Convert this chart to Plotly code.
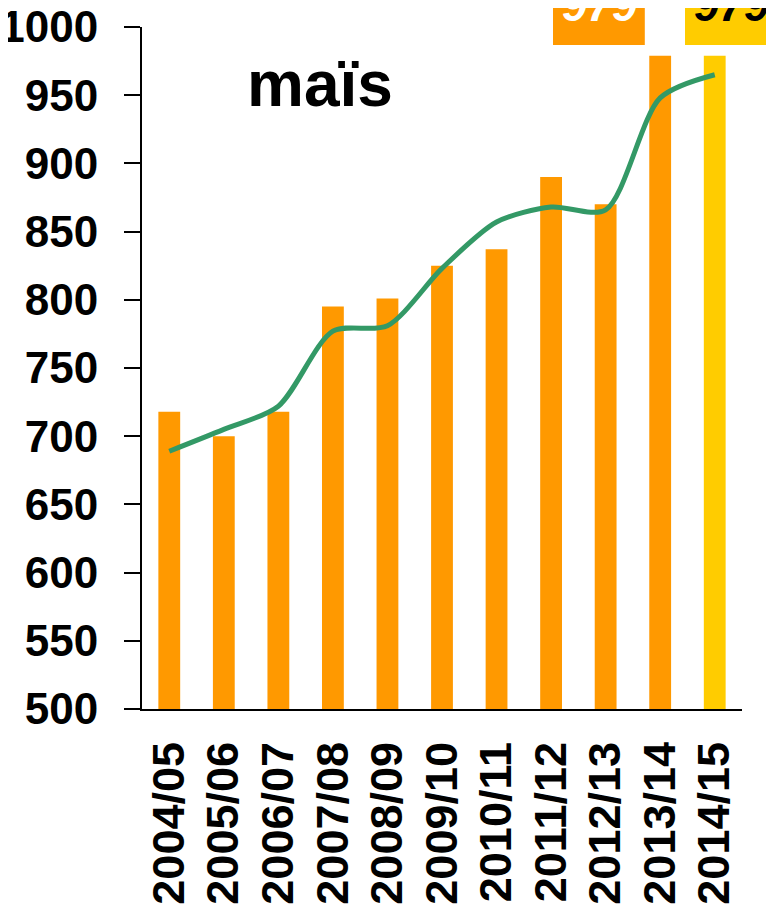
import plotly.graph_objects as go

categories = ["2004/05", "2005/06", "2006/07", "2007/08", "2008/09", "2009/10",
              "2010/11", "2011/12", "2012/13", "2013/14", "2014/15"]
bar_values = [718, 700, 718, 795, 801, 825, 837, 890, 870, 979, 979]
trend_values = [689, 705, 722, 777, 781, 823, 857, 868, 866, 948, 965]
bar_colors = ["#FF9900"] * 10 + ["#FFCC00"]
label_text = "979"

FONT = "Liberation Sans, Arial, sans-serif"

fig = go.Figure()
fig.add_trace(go.Bar(x=categories, y=bar_values, marker=dict(color=bar_colors, line=dict(width=0)),
                     width=0.4, showlegend=False))
fig.add_trace(go.Scatter(x=categories, y=trend_values, mode="lines",
                         line=dict(color="#339966", width=5, shape="spline", smoothing=0.8),
                         showlegend=False))

# label boxes at top
fig.add_shape(type="rect", xref="paper", yref="paper", x0=0.685, x1=0.838, y0=0.9736, y1=1.12,
              fillcolor="#FF9900", line=dict(width=0), layer="above")
fig.add_shape(type="rect", xref="paper", yref="paper", x0=0.905, x1=1.07, y0=0.9736, y1=1.12,
              fillcolor="#FFCC00", line=dict(width=0), layer="above")
fig.add_annotation(text=f"<b><i>{label_text}</i></b>", xref="paper", yref="paper", x=0.762, y=1.032,
                   xanchor="center", yanchor="middle", showarrow=False,
                   font=dict(family=FONT, size=45, color="white"))
fig.add_annotation(text=f"<b><i>{label_text}</i></b>", xref="paper", yref="paper", x=0.983, y=1.032,
                   xanchor="center", yanchor="middle", showarrow=False,
                   font=dict(family=FONT, size=45, color="black"))
fig.add_annotation(text="<b>maïs</b>", xref="paper", yref="paper", x=0.297, y=0.916,
                   xanchor="center", yanchor="middle", showarrow=False,
                   font=dict(family=FONT, size=64, color="black"))

fig.update_layout(
    width=774, height=911,
    margin=dict(l=134, r=40, t=19, b=210, autoexpand=False),
    paper_bgcolor="white", plot_bgcolor="white",
    font=dict(family=FONT, size=44, color="black"),
    bargap=0.6,
)
fig.update_xaxes(type="category", range=[-0.5, 10.5], showline=True, linecolor="black", linewidth=2,
                 ticks="", tickangle=-90, showgrid=False, zeroline=False, automargin=False,
                 tickfont=dict(family=FONT, size=45, color="black"), ticklabelstandoff=13,
                 tickprefix="<b>", ticksuffix="</b>", ticklabeloverflow="allow")
fig.update_yaxes(range=[500, 1000], dtick=50, showline=True, linecolor="black", linewidth=2,
                 ticks="outside", ticklen=16, tickwidth=2, tickcolor="black", automargin=False,
                 showgrid=False, zeroline=False, tickprefix="<b>", ticksuffix="</b>",
                 tickfont=dict(family=FONT, size=44, color="black"), ticklabelstandoff=17,
                 ticklabeloverflow="allow")

fig.write_html("out.html")
